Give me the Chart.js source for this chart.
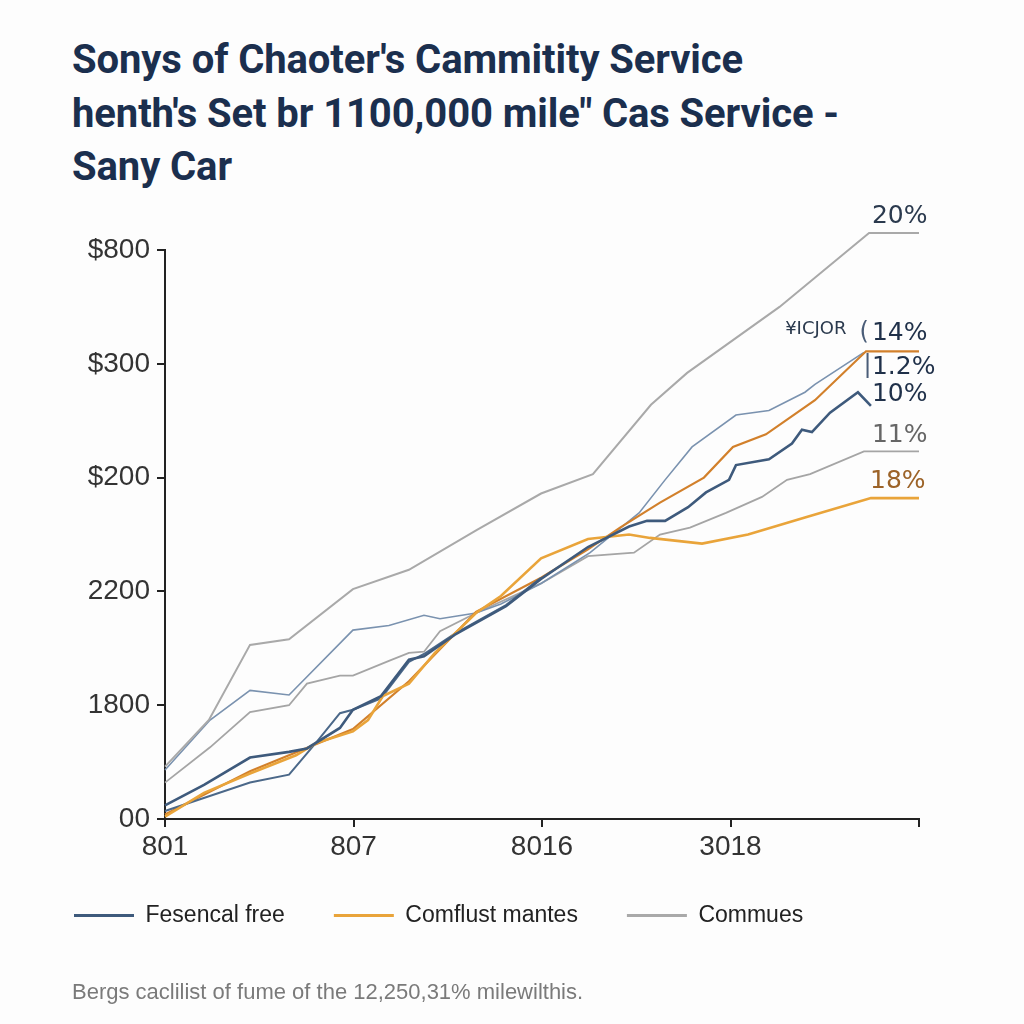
<!DOCTYPE html>
<html>
<head>
<meta charset="utf-8">
<script src="https://cdn.jsdelivr.net/npm/chart.js@4.4.1/dist/chart.umd.min.js"></script>
<style>
  html, body { margin: 0; padding: 0; background: #fdfdfd; }
  .wrap { position: relative; width: 1024px; height: 1024px; }
  .wrap canvas { position: absolute; left: 0; top: 0; }
  h1 {
    position: absolute; left: 72px; top: 33px; margin: 0;
    font: 700 40px/53.5px 'Roboto', 'Liberation Sans', sans-serif;
    letter-spacing: -0.1px; color: #1b2f4e; white-space: nowrap;
  }
  .note {
    position: absolute; left: 72px; top: 980px; margin: 0;
    font: 22px/24px 'Liberation Sans', sans-serif; color: #7a7a7a;
  }
</style>
</head>
<body>
<div class="wrap">
  <h1>Sonys of Chaoter's Cammitity Service<br>henth's Set br 1100,000 mile" Cas Service -<br>Sany Car</h1>
  <canvas id="chart" width="1024" height="1024"></canvas>
  <p class="note">Bergs caclilist of fume of the 12,250,31% milewilthis.</p>
</div>
<script>
// axis labels
const xTickLabels = ['801', '807', '8016', '3018', ''];
const yTickLabels = ['00', '1800', '2200', '$200', '$300', '$800'];

// series (x on a 0-40 scale, y on a 0-5 scale)
const fesencalX = [0, 2.07, 4.51, 6.58, 7.53, 9.28, 9.97, 11.46, 12.94, 13.74, 15.38, 18.09, 19.95, 22.44, 24.62, 25.57, 26.53, 27.75, 28.7, 29.92, 30.29, 32.04, 33.26, 33.79, 34.32, 35.28, 36.76, 37.45];
const fesencalY = [0.12, 0.3, 0.54, 0.59, 0.62, 0.8, 0.96, 1.08, 1.4, 1.43, 1.62, 1.87, 2.11, 2.39, 2.57, 2.62, 2.62, 2.74, 2.87, 2.98, 3.11, 3.16, 3.3, 3.42, 3.4, 3.57, 3.75, 3.63];

const fesencal2X = [0, 4.51, 6.58, 8.06, 9.28, 9.97, 11.46, 12.94, 13.74, 15.38, 18.09, 19.95];
const fesencal2Y = [0.07, 0.32, 0.39, 0.68, 0.93, 0.96, 1.06, 1.38, 1.45, 1.63, 1.88, 2.12];

const comflustX = [0, 2.07, 4.51, 6.95, 8.06, 9.97, 10.77, 11.56, 12.94, 14.32, 16.5, 17.82, 19.95, 22.44, 24.62, 25.73, 28.49, 30.93, 33.95, 37.45, 40];
const comflustY = [0.02, 0.23, 0.4, 0.56, 0.67, 0.77, 0.87, 1.08, 1.19, 1.46, 1.81, 1.96, 2.29, 2.46, 2.5, 2.47, 2.42, 2.5, 2.65, 2.82, 2.82];

const comflust2X = [0, 4.51, 9.97, 12.94, 16.5, 19.95, 22.44, 24.14, 26.26, 28.59, 30.13, 31.88, 34.48, 37.19, 40];
const comflust2Y = [0.04, 0.42, 0.79, 1.21, 1.82, 2.12, 2.37, 2.56, 2.78, 3.0, 3.27, 3.38, 3.68, 4.11, 4.11];

const communesX = [0, 2.33, 4.51, 6.58, 9.97, 12.94, 16.55, 19.95, 22.7, 25.78, 27.7, 32.6, 37.35, 40];
const communesY = [0.46, 0.87, 1.53, 1.58, 2.02, 2.19, 2.54, 2.86, 3.03, 3.64, 3.92, 4.5, 5.15, 5.15];

const steelX = [0, 2.39, 4.51, 6.58, 9.97, 11.88, 13.74, 14.59, 16.5, 17.82, 19.95, 22.55, 25.15, 26.53, 27.96, 30.29, 32.04, 33.95, 34.48, 37.08];
const steelY = [0.43, 0.87, 1.13, 1.09, 1.66, 1.7, 1.79, 1.76, 1.81, 1.89, 2.07, 2.34, 2.69, 2.98, 3.27, 3.55, 3.59, 3.75, 3.82, 4.1];

const commues2X = [0, 2.39, 4.51, 6.58, 7.53, 9.28, 9.97, 11.88, 12.94, 13.74, 14.59, 16.5, 19.95, 22.44, 24.88, 26.26, 27.85, 29.76, 31.67, 33, 34.22, 37.08, 40];
const commues2Y = [0.32, 0.63, 0.94, 1.0, 1.19, 1.26, 1.26, 1.39, 1.46, 1.47, 1.65, 1.81, 2.07, 2.31, 2.34, 2.5, 2.56, 2.69, 2.83, 2.98, 3.03, 3.23, 3.23];

// end-of-line notes
const noteText = ['20%', '\u00a5ICJOR', '(', '14%', '|', '1.2%', '10%', '11%', '18%'];
const noteX = [37.5, 32.9, 36.85, 37.5, 37.05, 37.5, 37.5, 37.5, 37.4];
const noteY = [5.29, 4.3, 4.27, 4.27, 3.98, 3.97, 3.73, 3.37, 2.97];
const noteColor = ['#2b3a4e', '#2b3a4e', '#4a5d78', '#1f3049', '#4a5d78', '#1f3049', '#1f3049', '#666666', '#9c6328'];
const noteSize = [25, 18, 24, 25, 24, 25, 25, 25, 25];

const legendShown = [0, 1, 2];

function pts(xs, ys) {
    return xs.map((x, i) => ({ x: x, y: ys[i] }));
}

function line(label, xs, ys, color, width) {
    return {
        label: label,
        data: pts(xs, ys),
        borderColor: color,
        backgroundColor: color,
        borderWidth: width,
        pointRadius: 0,
        tension: 0,
        clip: false
    };
}

const notesPlugin = {
    id: 'notes',
    afterDatasetsDraw(chart) {
        const ctx = chart.ctx;
        const xs = chart.scales.x;
        const ys = chart.scales.y;
        ctx.save();
        ctx.textAlign = 'left';
        ctx.textBaseline = 'middle';
        noteText.forEach((t, i) => {
            ctx.font = noteSize[i] + "px 'DejaVu Sans', sans-serif";
            ctx.fillStyle = noteColor[i];
            ctx.fillText(t, xs.getPixelForValue(noteX[i]), ys.getPixelForValue(noteY[i]));
        });
        ctx.restore();
    }
};

Chart.defaults.font.family = "'Liberation Sans', Arial, sans-serif";

new Chart(document.getElementById('chart'), {
    type: 'line',
    data: {
        datasets: [
            line('Fesencal free', fesencalX, fesencalY, '#3e5a7c', 2.6),
            line('Comflust mantes', comflustX, comflustY, '#e9a43a', 2.6),
            line('Commues', communesX, communesY, '#a9a9a9', 2),
            line('Fesencal free 2', fesencal2X, fesencal2Y, '#4b6889', 2),
            line('Comflust mantes 2', comflust2X, comflust2Y, '#d2802b', 2.2),
            line('Steel', steelX, steelY, '#7a92af', 1.6),
            line('Commues 2', commues2X, commues2Y, '#a5a5a5', 1.8)
        ]
    },
    options: {
        responsive: false,
        animation: false,
        layout: { padding: { left: 25, right: 105, top: 250, bottom: 87 } },
        plugins: {
            tooltip: { enabled: false },
            legend: {
                position: 'bottom',
                align: 'start',
                labels: {
                    boxWidth: 60,
                    boxHeight: 3,
                    padding: 49,
                    color: '#222',
                    font: { size: 23 },
                    filter: item => legendShown.includes(item.datasetIndex),
                    generateLabels(chart) {
                        return Chart.defaults.plugins.legend.labels.generateLabels(chart)
                            .map(item => Object.assign(item, { lineWidth: 0 }));
                    }
                }
            }
        },
        scales: {
            x: {
                type: 'linear',
                min: 0,
                max: 40,
                afterFit: s => { s.height = 36; },
                grid: { drawOnChartArea: false, color: '#222', lineWidth: 2, tickLength: 8 },
                border: { color: '#222', width: 2 },
                ticks: {
                    stepSize: 10,
                    padding: 3,
                    color: '#333',
                    font: { size: 28 },
                    callback: v => xTickLabels[v / 10]
                }
            },
            y: {
                min: 0,
                max: 5,
                afterFit: s => { s.width = 140; },
                grid: { drawOnChartArea: false, color: '#222', lineWidth: 2, tickLength: 8 },
                border: { color: '#222', width: 2 },
                ticks: {
                    stepSize: 1,
                    padding: 7,
                    color: '#333',
                    font: { size: 28 },
                    callback: v => yTickLabels[v]
                }
            }
        }
    },
    plugins: [notesPlugin]
});
</script>
</body>
</html>
